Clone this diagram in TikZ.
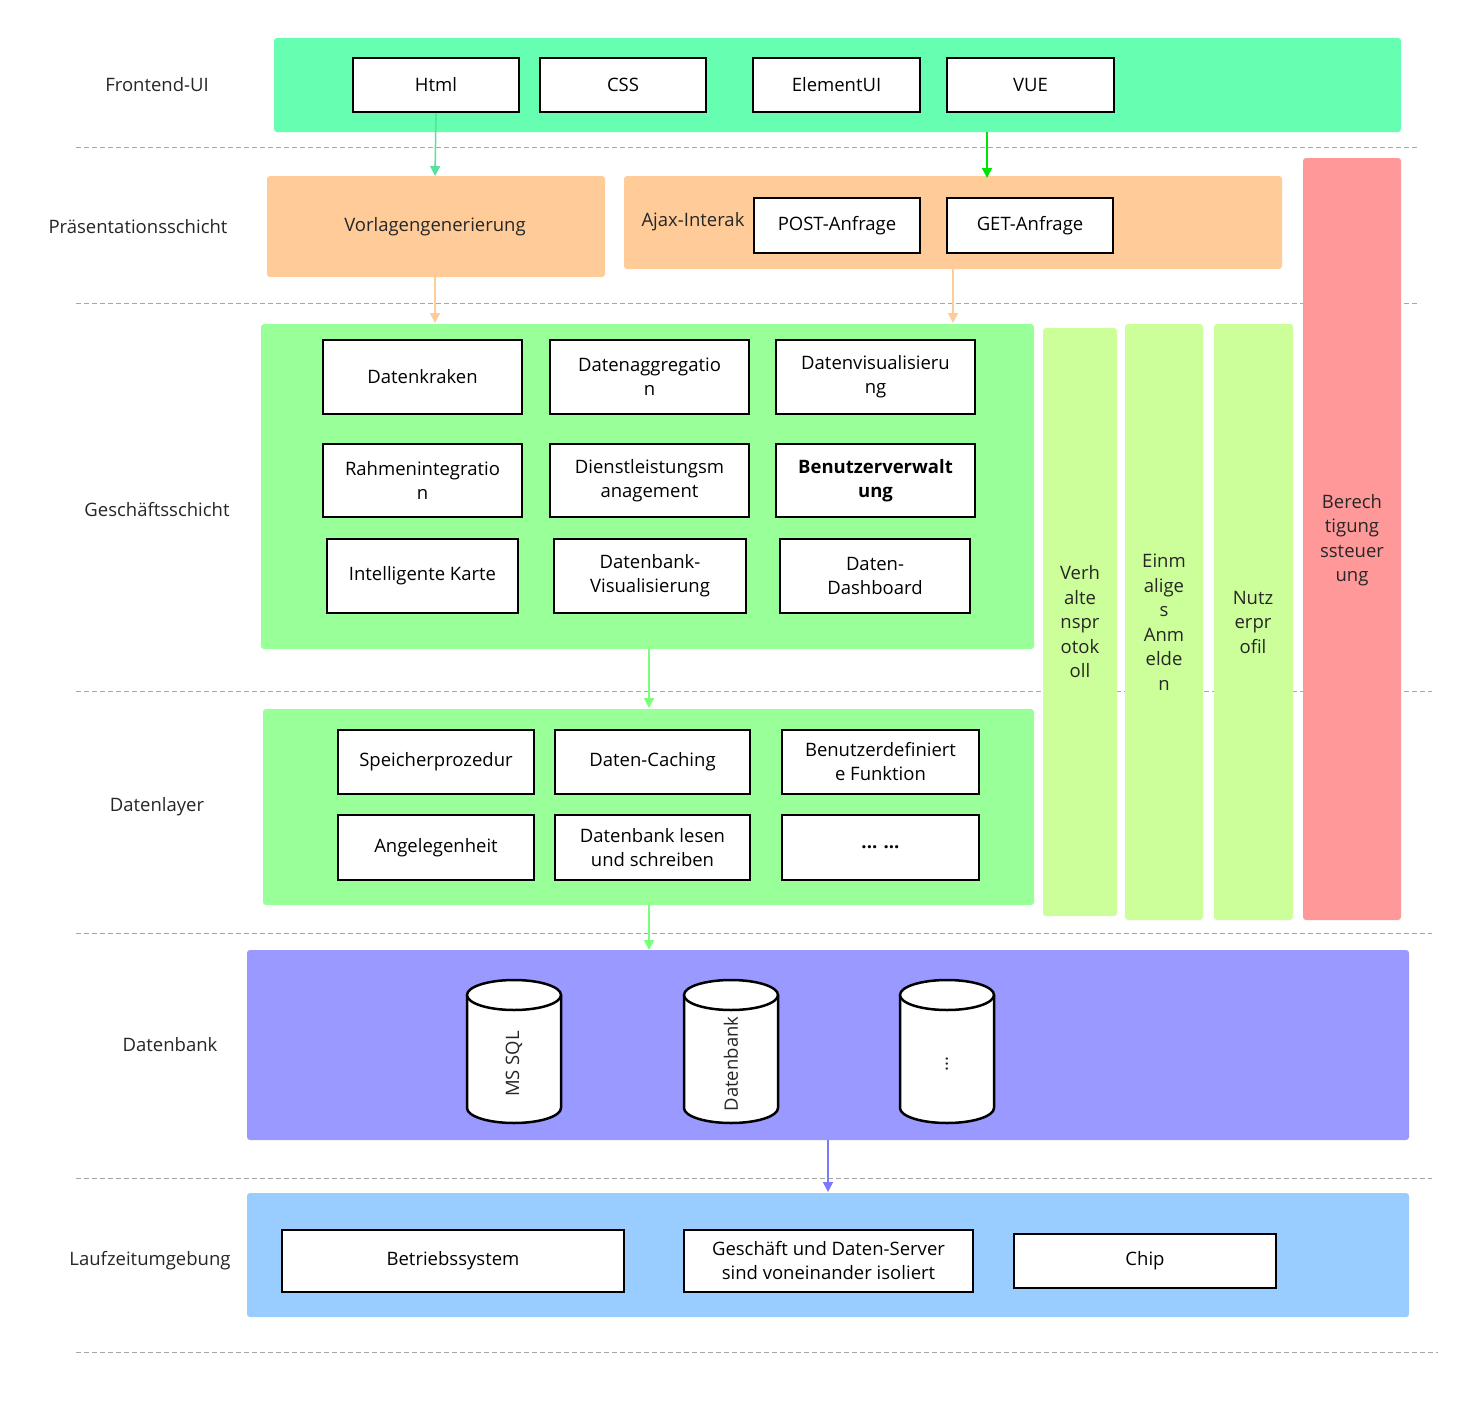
\documentclass[tikz,border=0pt]{standalone}
\usepackage{fontspec}
\setmainfont{Open Sans}
\usetikzlibrary{arrows.meta}
\definecolor{feG}{RGB}{102,255,178}
\definecolor{orG}{RGB}{255,204,153}
\definecolor{gsG}{RGB}{153,255,153}
\definecolor{lgG}{RGB}{204,255,153}
\definecolor{rdG}{RGB}{255,153,153}
\definecolor{dbG}{RGB}{153,153,255}
\definecolor{lzG}{RGB}{153,204,255}
\tikzset{
 band/.style={draw=none,rounded corners=3pt},
 box/.style={draw=black,line width=2pt,fill=white,align=center,font=\fontsize{18.5}{24}\selectfont,inner sep=0pt},
 lab/.style={font=\fontsize{18.5}{24}\selectfont,text=black!85,align=center},
 sepline/.style={gray!70,line width=1pt,dash pattern=on 5pt off 3pt},
 arr/.style={-{Triangle[length=10pt,width=10pt]},line width=1.5pt}
}
\newcommand{\bx}[6]{\node[box,minimum width=#4-#2,minimum height=#5-#3] (#1) at ({(#2+#4)/2},{(#3+#5)/2}) {#6};}
\newcommand{\cyl}[3]{% name, cx, text
 \draw[line width=2.5pt,fill=white] (#2-47,995) -- (#2-47,1108) arc[start angle=180,end angle=0,x radius=47,y radius=15] -- (#2+47,995);
 \draw[line width=2.5pt,fill=white] (#2,995) ellipse[x radius=47,y radius=15];
 \node[lab,rotate=90] (#1) at (#2,1064) {#3};}
\begin{document}
\begin{tikzpicture}[x=1pt,y=-1pt]
\useasboundingbox (0,0) rectangle (1476,1405);
\fill[white] (0,0) rectangle (1476,1405);
% dashed lines
\foreach \y/\a/\b in {147/76/1418,303/76/1420,691/76/1432,933/76/1432,1178/76/1432,1352/76/1438}
  \draw[sepline] (\a,\y) -- (\b,\y);
% labels
\node[lab] (l1) at (157,85) {Frontend-UI};
\node[lab] (l2) at (138,227) {Präsentationsschicht};
\node[lab] (l3) at (157,510) {Geschäftsschicht};
\node[lab] (l4) at (157,807) {Datenlayer};
\node[lab] (l5) at (170,1045) {Datenbank};
\node[lab] (l6) at (150,1261) {Laufzeitumgebung};
% frontend
\fill[band,feG] (274,38) rectangle (1401,132);
\bx{html}{353}{58}{519}{112}{Html}
\bx{css}{540}{58}{706}{112}{CSS}
\bx{eui}{753}{58}{920}{112}{ElementUI}
\bx{vue}{947}{58}{1114}{112}{VUE}
% presentation
\fill[band,orG] (267,176) rectangle (605,277);
\node[lab] (vg) at (435,227) {Vorlagengenerierung};
\fill[band,orG] (624,176) rectangle (1282,269);
\node[lab,anchor=west] (ajax) at (638,222) {Ajax-Interak};
\bx{post}{754}{198}{920}{253}{POST-Anfrage}
\bx{get}{947}{198}{1113}{253}{GET-Anfrage}
% side bars
\fill[band,lgG] (1043,328) rectangle (1117,916);
\fill[band,lgG] (1125,324) rectangle (1203,920);
\fill[band,lgG] (1214,324) rectangle (1293,920);
\fill[band,rdG] (1303,158) rectangle (1401,920);
\node[lab,font=\fontsize{18.5}{24.5}\selectfont] (s1) at (1080,622) {Verh\\alte\\nspr\\otok\\oll};
\node[lab,font=\fontsize{18.5}{24.5}\selectfont] (s2) at (1164,622) {Einm\\alige\\s\\Anm\\elde\\n};
\node[lab,font=\fontsize{18.5}{24.5}\selectfont] (s3) at (1253,622) {Nutz\\erpr\\ofil};
\node[lab,font=\fontsize{18.5}{24.5}\selectfont] (s4) at (1352,540) {Berech\\tigung\\ssteuer\\ung};
% business
\fill[band,gsG] (261,324) rectangle (1034,649);
\bx{b1}{323}{340}{522}{414}{Datenkraken}
\bx{b2}{550}{340}{749}{414}{Datenaggregatio\\n}
\bx{b3}{776}{340}{975}{414}{Datenvisualisieru\\ng}
\bx{b4}{323}{444}{522}{517}{Rahmenintegratio\\n}
\bx{b5}{550}{444}{749}{517}{Dienstleistungsm\\anagement}
\node[box,font=\fontsize{18.5}{24}\selectfont\bfseries,minimum width=199,minimum height=73] (b6) at (875.5,480.5) {Benutzerverwalt\\ung};
\bx{b7}{327}{539}{518}{613}{Intelligente Karte}
\bx{b8}{554}{539}{746}{613}{Datenbank-\\Visualisierung}
\bx{b9}{780}{539}{970}{613}{Daten-\\Dashboard}
% data layer
\fill[band,gsG] (263,709) rectangle (1034,905);
\bx{d1}{338}{730}{534}{794}{Speicherprozedur}
\bx{d2}{555}{730}{750}{794}{Daten-Caching}
\bx{d3}{782}{730}{979}{794}{Benutzerdefiniert\\e Funktion}
\bx{d4}{338}{815}{534}{880}{Angelegenheit}
\bx{d5}{555}{815}{750}{880}{Datenbank lesen\\und schreiben}
\node[box,font=\fontsize{18.5}{24}\selectfont\bfseries,minimum width=197,minimum height=65] (d6) at (880.5,847.5) {... ...};
% database
\fill[band,dbG] (247,950) rectangle (1409,1140);
\cyl{c1}{514}{MS SQL}
\cyl{c2}{731}{Datenbank}
\cyl{c3}{947}{...}
% runtime
\fill[band,lzG] (247,1193) rectangle (1409,1317);
\bx{r1}{282}{1230}{624}{1292}{Betriebssystem}
\bx{r2}{684}{1230}{973}{1292}{Geschäft und Daten-Server\\sind voneinander isoliert}
\bx{r3}{1014}{1234}{1276}{1288}{Chip}
% arrows
\coordinate (p1) at (435,176);
\draw[arr,feG!80!black!60!feG] (html.south) -- (p1);
\coordinate (p2) at (987,132); \coordinate (p3) at (987,178);
\draw[arr,green!90!black] (p2) -- (p3);
\coordinate (p4) at (435,277); \coordinate (p5) at (435,323);
\draw[arr,orG] (p4) -- (p5);
\coordinate (p6) at (953,269); \coordinate (p7) at (953,323);
\draw[arr,orG] (p6) -- (p7);
\coordinate (p8) at (649,649); \coordinate (p9) at (649,708);
\draw[arr,gsG!80!green] (p8) -- (p9);
\coordinate (q1) at (649,905); \coordinate (q2) at (649,950);
\draw[arr,gsG!80!green] (q1) -- (q2);
\coordinate (q3) at (828,1140); \coordinate (q4) at (828,1192);
\draw[arr,dbG!80!blue] (q3) -- (q4);
\end{tikzpicture}
\end{document}
